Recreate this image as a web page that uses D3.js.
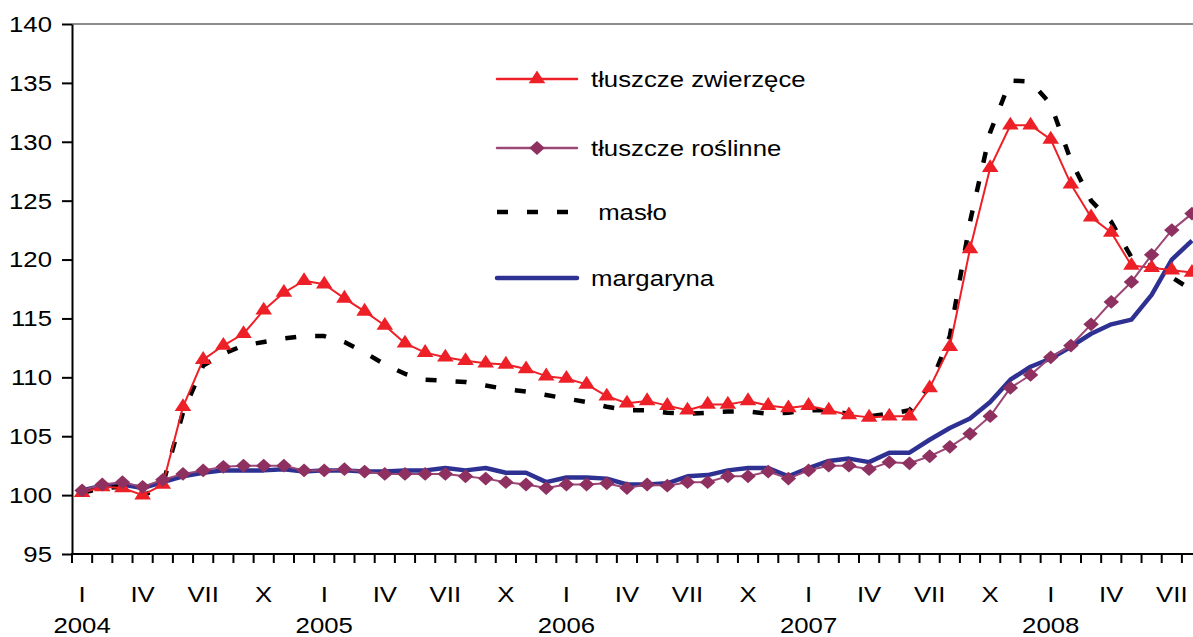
<!DOCTYPE html>
<html>
<head>
<meta charset="utf-8">
<script src="https://cdn.jsdelivr.net/npm/d3@7"></script>
<style>
  html, body { margin: 0; padding: 0; background: #fff; }
  svg { display: block; font-family: "Liberation Sans", Arial, sans-serif; }
</style>
</head>
<body>
<div id="chart"></div>
<script>
// categories
const years = [2004, 2005, 2006, 2007, 2008];
const monthNames = ['I', 'II', 'III', 'IV', 'V', 'VI', 'VII', 'VIII', 'IX', 'X', 'XI', 'XII'];
const labelMonths = ['I', 'IV', 'VII', 'X'];
const yTicks = [95, 100, 105, 110, 115, 120, 125, 130, 135, 140];

// series values, Jan 2004 .. Aug 2008
const zwierzece = [
  100.2, 100.7, 100.6, 100.0, 100.9, 107.5, 111.5, 112.7, 113.7, 115.7, 117.2, 118.2,
  117.9, 116.7, 115.6, 114.4, 112.9, 112.1, 111.7, 111.4, 111.2, 111.1, 110.7, 110.1,
  109.9, 109.4, 108.4, 107.8, 108.0, 107.6, 107.2, 107.7, 107.7, 108.0, 107.6, 107.4,
  107.6, 107.2, 106.8, 106.6, 106.7, 106.7, 109.1, 112.6, 120.9, 127.8, 131.4, 131.4,
  130.2, 126.4, 123.6, 122.3, 119.5, 119.3, 119.1, 118.9
];
const roslinne = [
  100.4, 100.9, 101.1, 100.7, 101.3, 101.8, 102.1, 102.4, 102.5, 102.5, 102.5, 102.1,
  102.1, 102.2, 102.0, 101.8, 101.8, 101.8, 101.8, 101.6, 101.4, 101.1, 100.9, 100.6,
  100.9, 100.9, 101.0, 100.6, 100.9, 100.8, 101.1, 101.1, 101.6, 101.6, 102.0, 101.4,
  102.1, 102.5, 102.5, 102.2, 102.8, 102.7, 103.3, 104.1, 105.2, 106.7, 109.1, 110.2,
  111.7, 112.7, 114.5, 116.4, 118.1, 120.4, 122.5, 123.9
];
const maslo = [
  100.2, 100.6, 100.7, 99.9, 100.9, 107.0, 111.0, 112.0, 112.7, 113.0, 113.3, 113.5,
  113.5, 113.0, 112.1, 111.1, 110.3, 109.8, 109.7, 109.6, 109.3, 109.0, 108.8, 108.5,
  108.2, 107.9, 107.5, 107.2, 107.2, 107.0, 106.9, 107.0, 107.1, 107.1, 106.9, 107.0,
  107.2, 107.2, 106.9, 106.7, 106.9, 107.2, 109.2, 113.5, 123.2, 130.8, 135.2, 135.1,
  133.2, 128.4, 125.0, 123.2, 120.2, 119.4, 118.5, 117.4
];
const margaryna = [
  100.4, 100.8, 100.9, 100.6, 101.1, 101.6, 101.9, 102.1, 102.1, 102.1, 102.2, 102.0,
  102.1, 102.1, 102.0, 102.0, 102.1, 102.1, 102.3, 102.1, 102.3, 101.9, 101.9, 101.1,
  101.5, 101.5, 101.4, 100.9, 100.9, 101.0, 101.6, 101.7, 102.1, 102.3, 102.3, 101.6,
  102.3, 102.9, 103.1, 102.8, 103.6, 103.6, 104.7, 105.7, 106.5, 107.9, 109.8, 110.9,
  111.6, 112.6, 113.7, 114.5, 114.9, 117.0, 120.0, 121.6
];

const categories = years
  .flatMap(yr => monthNames.map(m => ({ key: yr + '-' + m, year: yr, month: m })))
  .slice(0, zwierzece.length);

const W = 1193, H = 637;
const sx = 1.12;           // the original text is slightly stretched sideways
const fontSize = 23;
const band = 20.18;
const plotLeft = 72, plotTop = 24, plotBottom = 554;

const svg = d3.select('#chart').append('svg').attr('width', W).attr('height', H);

const x = d3.scaleBand()
  .domain(categories.map(d => d.key))
  .range([plotLeft, plotLeft + categories.length * band]);
const cx = key => x(key) + x.bandwidth() / 2;

const y = d3.scaleLinear().domain([95, 140]).range([plotBottom, plotTop]);

function label(g, text, tx, ty, anchor) {
  return g.append('text')
    .attr('transform', 'translate(' + tx + ',' + ty + ') scale(' + sx + ',1)')
    .attr('text-anchor', anchor || 'middle')
    .attr('font-size', fontSize)
    .attr('fill', '#000')
    .text(text);
}

// top border of the plot area
svg.append('line')
  .attr('x1', plotLeft).attr('x2', W)
  .attr('y1', y(140)).attr('y2', y(140))
  .attr('stroke', '#8c8c8c').attr('stroke-width', 2);

// y axis
const yAxis = svg.append('g')
  .attr('transform', 'translate(' + plotLeft + ',0)')
  .call(d3.axisLeft(y).tickValues(yTicks).tickSize(10).tickSizeOuter(0).tickPadding(10));
yAxis.select('.domain').attr('stroke', '#000').attr('stroke-width', 2);
yAxis.selectAll('.tick line').attr('stroke', '#000').attr('stroke-width', 2);
yAxis.selectAll('.tick text')
  .attr('x', -20 / sx)
  .attr('transform', 'scale(' + sx + ',1)')
  .attr('font-size', fontSize)
  .attr('fill', '#000');
yAxis.attr('font-family', null).attr('font-size', null);

// x axis: line, month boundary ticks, quarter and year labels
const xAxis = svg.append('g');
const xEnd = x.range()[1];
xAxis.append('line')
  .attr('x1', plotLeft - 1).attr('x2', xEnd)
  .attr('y1', plotBottom).attr('y2', plotBottom)
  .attr('stroke', '#000').attr('stroke-width', 2);

const boundaries = categories.map(d => x(d.key)).concat([xEnd]);
xAxis.selectAll('line.tick').data(boundaries).enter().append('line')
  .attr('class', 'tick')
  .attr('x1', d => d).attr('x2', d => d)
  .attr('y1', plotBottom).attr('y2', plotBottom + 9)
  .attr('stroke', '#000').attr('stroke-width', 2);

categories.filter(d => labelMonths.includes(d.month)).forEach(d => {
  label(xAxis, d.month, cx(d.key), 602);
});
categories.filter(d => d.month === 'I').forEach(d => {
  label(xAxis, d.year, cx(d.key), 633);
});

// series
const triangle = d3.symbol().type(d3.symbolTriangle).size(95)();
const diamond = d3.symbol().type(d3.symbolSquare).size(95)();

const series = [
  { name: 'margaryna', values: margaryna, color: '#2e3192', width: 4.5, dash: null, marker: null },
  { name: ' masło', values: maslo, color: '#000', width: 4.5, dash: '11,19', marker: null },
  { name: 'tłuszcze zwierzęce', values: zwierzece, color: '#ee2027', width: 2, dash: null, marker: 'triangle' },
  { name: 'tłuszcze roślinne', values: roslinne, color: '#8e3060', width: 2, dash: null, marker: 'diamond' }
];

function markerTransform(s, px, py) {
  return s.marker === 'diamond'
    ? 'translate(' + px + ',' + py + ') scale(' + sx + ',1) rotate(45)'
    : 'translate(' + px + ',' + py + ') scale(' + sx + ',1)';
}

const line = d3.line()
  .x((v, i) => cx(categories[i].key))
  .y(v => y(v));

const plot = svg.append('g');
series.forEach(s => {
  plot.append('path')
    .attr('d', line(s.values))
    .attr('fill', 'none')
    .attr('stroke', s.marker === 'diamond' ? '#9b4777' : s.color)
    .attr('stroke-width', s.width)
    .attr('stroke-linejoin', 'round')
    .attr('stroke-dasharray', s.dash);

  if (s.marker) {
    plot.selectAll(null).data(s.values).enter().append('path')
      .attr('d', s.marker === 'diamond' ? diamond : triangle)
      .attr('transform', (v, i) => markerTransform(s, cx(categories[i].key), y(v)))
      .attr('fill', s.color);
  }
});

// legend
const legendOrder = ['tłuszcze zwierzęce', 'tłuszcze roślinne', ' masło', 'margaryna'];
const legendRows = [79, 148, 212, 278];
const legend = svg.append('g');
legendOrder.forEach((name, i) => {
  const s = series.find(d => d.name === name);
  const ly = legendRows[i];
  legend.append('line')
    .attr('x1', 497).attr('x2', 577)
    .attr('y1', ly).attr('y2', ly)
    .attr('stroke', s.marker === 'diamond' ? '#9b4777' : s.color)
    .attr('stroke-width', s.dash ? 4.5 : (s.marker ? 2.5 : 4.5))
    .attr('stroke-linecap', s.dash ? 'butt' : 'round')
    .attr('stroke-dasharray', s.dash);
  if (s.marker) {
    legend.append('path')
      .attr('d', s.marker === 'diamond' ? diamond : triangle)
      .attr('transform', markerTransform(s, 537, ly))
      .attr('fill', s.color);
  }
  legend.append('text')
    .attr('transform', 'translate(591,' + (ly + 8) + ') scale(' + sx + ',1)')
    .attr('font-size', fontSize)
    .attr('xml:space', 'preserve')
    .style('white-space', 'pre')
    .text(name);
});
</script>
</body>
</html>
